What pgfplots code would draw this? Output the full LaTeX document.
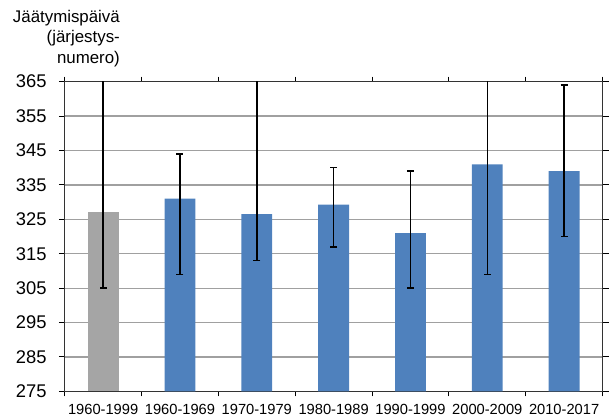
\documentclass[border=0pt]{standalone}
\usepackage{pgfplots}
\pgfplotsset{compat=1.18}
\usepackage{pgfplotstable}
\usepackage{fontspec}
\setmainfont{Liberation Sans}

\definecolor{barblue}{HTML}{4F81BD}
\definecolor{bargray}{HTML}{A5A5A5}
\definecolor{gridgray}{HTML}{A0A0A0}

% x, mean, error up, error down
\pgfplotstableread{
x y ep em
0 327 50 22
}\gray
\pgfplotstableread{
x y ep em
1 331 13 22
2 326.5 50 13.5
3 329.3 10.7 12.3
4 321 18 16
5 341 50 32
6 339 25 19
}\blue

\begin{document}
\begin{tikzpicture}
\begin{axis}[
  name=a,
  scale only axis,
  width=540bp, height=311bp,
  xmin=-0.5, xmax=6.5,
  ymin=275, ymax=365,
  ytick={275,285,...,365},
  xtick={0,...,6},
  xticklabels={1960-1999,1960-1969,1970-1979,1980-1989,1990-1999,2000-2009,2010-2017},
  minor xtick={-0.5,0.5,...,6.5},
  x tick style={draw=none},
  minor x tick style={draw=black, line width=1bp},
  y tick style={draw=black, line width=1bp},
  tick align=outside,
  major tick length=6bp,
  minor tick length=5bp,
  ymajorgrids,
  grid style={gridgray, line width=1.3bp},
  axis line style={black!80, line width=1.2bp},
  /pgf/number format/assume math mode=true,
  yticklabel style={font=\fontsize{18.5}{20}\selectfont, inner sep=0pt, xshift=-12bp},
  xticklabel style={font=\fontsize{14.8}{16}\selectfont, inner sep=0pt, anchor=north, yshift=-7bp},
  ybar, bar width=31bp, bar shift=0pt,
  error bars/error bar style={black, line width=1.4bp},
  error bars/error mark options={rotate=90, mark size=3.5bp, line width=1.4bp},
]
\addplot[fill=bargray, draw=none,
  error bars/.cd, y dir=both, y explicit]
  table[x=x, y=y, y error plus=ep, y error minus=em] {\gray};
\addplot[fill=barblue, draw=none,
  error bars/.cd, y dir=both, y explicit]
  table[x=x, y=y, y error plus=ep, y error minus=em] {\blue};
\end{axis}
\begin{scope}[every node/.style={font=\fontsize{17}{19}\selectfont, inner sep=0pt, anchor=base east}]
\node at ([shift={(55.5bp,59.7bp)}]a.north west) {Jäätymispäivä};
\node at ([shift={(55.5bp,39.2bp)}]a.north west) {(järjestys-};
\node at ([shift={(55.5bp,18.7bp)}]a.north west) {numero)};
\end{scope}
\path ([shift={(-65bp,-26bp)}]a.south west) rectangle ([shift={(4bp,82bp)}]a.north east);
\end{tikzpicture}
\end{document}
